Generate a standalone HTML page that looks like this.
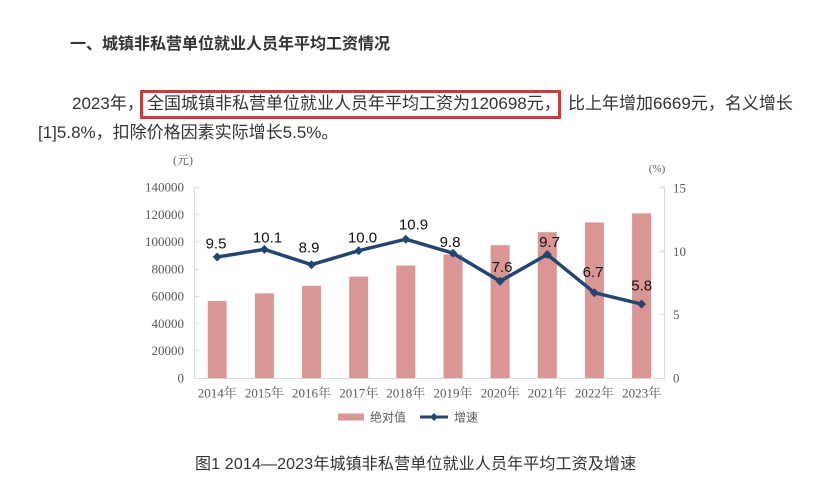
<!DOCTYPE html>
<html>
<head>
<meta charset="utf-8">
<style>
html,body{margin:0;padding:0;background:#fff;}
body{width:838px;height:501px;position:relative;overflow:hidden;font-family:"Liberation Sans","Noto Sans CJK SC",sans-serif;color:#333;}
.t{position:absolute;white-space:nowrap;}
.h{left:70px;top:34px;font-size:16px;line-height:22px;font-weight:bold;color:#333;}
.p{font-size:17px;line-height:20px;color:#333;}
.box{position:absolute;left:140px;top:90px;width:415px;height:23px;border:3px solid #c43d3f;}
.cap{left:195px;top:454px;font-size:16px;line-height:22px;color:#333;letter-spacing:0.15px;}
</style>
</head>
<body>
<div class="t h">一、城镇非私营单位就业人员年平均工资情况</div>

<div class="t p" style="left:72px;top:94px;">2023年，</div>
<div class="box"></div>
<div class="t p" style="left:147px;top:94px;">全国城镇非私营单位就业人员年平均工资为120698元，</div>
<div class="t p" style="left:568px;top:94px;">比上年增加6669元，名义增长</div>
<div class="t p" style="left:38px;top:123px;">[1]5.8%，扣除价格因素实际增长5.5%。</div>

<svg style="position:absolute;left:0;top:0;" width="838" height="501" xmlns="http://www.w3.org/2000/svg">
  <g stroke="#d9d9d9" stroke-width="1" fill="none">
    <line x1="194.5" y1="187" x2="194.5" y2="378"/>
    <line x1="664.5" y1="187" x2="664.5" y2="378"/>
    <line x1="194" y1="378.5" x2="665" y2="378.5"/>
    <line x1="194" y1="187.5" x2="199" y2="187.5"/>
    <line x1="194" y1="214.5" x2="199" y2="214.5"/>
    <line x1="194" y1="241.5" x2="199" y2="241.5"/>
    <line x1="194" y1="269.5" x2="199" y2="269.5"/>
    <line x1="194" y1="296.5" x2="199" y2="296.5"/>
    <line x1="194" y1="323.5" x2="199" y2="323.5"/>
    <line x1="194" y1="350.5" x2="199" y2="350.5"/>
    <line x1="660" y1="187.5" x2="665" y2="187.5"/>
    <line x1="660" y1="251.5" x2="665" y2="251.5"/>
    <line x1="660" y1="314.5" x2="665" y2="314.5"/>
  </g>

  <g fill="#d99694">
    <rect x="207.7" y="301.1" width="19" height="76.9"/>
    <rect x="254.9" y="293.4" width="19" height="84.6"/>
    <rect x="302.0" y="285.8" width="19" height="92.2"/>
    <rect x="349.2" y="276.6" width="19" height="101.4"/>
    <rect x="396.3" y="265.6" width="19" height="112.4"/>
    <rect x="443.5" y="254.5" width="19" height="123.5"/>
    <rect x="490.6" y="245.2" width="19" height="132.8"/>
    <rect x="537.8" y="232.2" width="19" height="145.8"/>
    <rect x="584.9" y="222.4" width="19" height="155.6"/>
    <rect x="632.1" y="213.3" width="19" height="164.7"/>
  </g>

  <polyline fill="none" stroke="#234670" stroke-width="3.5" stroke-linejoin="round"
    points="217.2,257.0 264.4,249.4 311.5,264.7 358.7,250.7 405.8,239.2 453.0,253.2 500.1,281.2 547.3,254.5 594.4,292.7 641.6,304.1"/>
  <g fill="#234670">
    <polygon points="217.2,252.5 221.7,257.0 217.2,261.5 212.7,257.0"/>
    <polygon points="264.4,244.9 268.9,249.4 264.4,253.9 259.9,249.4"/>
    <polygon points="311.5,260.2 316.0,264.7 311.5,269.2 307.0,264.7"/>
    <polygon points="358.7,246.2 363.2,250.7 358.7,255.2 354.2,250.7"/>
    <polygon points="405.8,234.7 410.3,239.2 405.8,243.7 401.3,239.2"/>
    <polygon points="453.0,248.7 457.5,253.2 453.0,257.7 448.5,253.2"/>
    <polygon points="500.1,276.7 504.6,281.2 500.1,285.7 495.6,281.2"/>
    <polygon points="547.3,250.0 551.8,254.5 547.3,259.0 542.8,254.5"/>
    <polygon points="594.4,288.2 598.9,292.7 594.4,297.2 589.9,292.7"/>
    <polygon points="641.6,299.6 646.1,304.1 641.6,308.6 637.1,304.1"/>
  </g>

  <g font-family="'Liberation Sans', sans-serif" font-size="15" fill="#111" text-anchor="middle">
    <text x="216" y="248.5">9.5</text>
    <text x="267.5" y="242.5">10.1</text>
    <text x="309" y="252.4">8.9</text>
    <text x="362.5" y="242.7">10.0</text>
    <text x="413.5" y="229.4">10.9</text>
    <text x="450" y="247">9.8</text>
    <text x="502" y="272">7.6</text>
    <text x="549.5" y="247">9.7</text>
    <text x="593" y="277">6.7</text>
    <text x="641.7" y="290.4">5.8</text>
  </g>

  <g font-family="'Liberation Serif', 'Noto Serif CJK SC', serif" font-size="13" fill="#595959" text-anchor="end">
    <text x="184" y="191.5">140000</text>
    <text x="184" y="218.8">120000</text>
    <text x="184" y="246.1">100000</text>
    <text x="184" y="273.4">80000</text>
    <text x="184" y="300.6">60000</text>
    <text x="184" y="327.9">40000</text>
    <text x="184" y="355.2">20000</text>
    <text x="184" y="382.5">0</text>
  </g>

  <g font-family="'Liberation Serif', serif" font-size="13" fill="#595959" text-anchor="start">
    <text x="673" y="192.5">15</text>
    <text x="673" y="255.8">10</text>
    <text x="673" y="319.2">5</text>
    <text x="673" y="382.5">0</text>
  </g>

  <text x="183" y="164" font-family="'Liberation Serif', 'Noto Serif CJK SC', serif" font-size="12" fill="#595959" text-anchor="middle">(元)</text>
  <text x="657" y="172" font-family="'Liberation Serif', serif" font-size="11" fill="#595959" text-anchor="middle">(%)</text>

  <g font-family="'Liberation Serif', 'Noto Serif CJK SC', serif" font-size="13" fill="#595959" text-anchor="middle">
    <text x="217.2" y="397.5">2014年</text>
    <text x="264.4" y="397.5">2015年</text>
    <text x="311.5" y="397.5">2016年</text>
    <text x="358.7" y="397.5">2017年</text>
    <text x="405.8" y="397.5">2018年</text>
    <text x="453.0" y="397.5">2019年</text>
    <text x="500.1" y="397.5">2020年</text>
    <text x="547.3" y="397.5">2021年</text>
    <text x="594.4" y="397.5">2022年</text>
    <text x="641.6" y="397.5">2023年</text>
  </g>

  <rect x="338" y="413.5" width="26" height="7" fill="#d99694"/>
  <text x="370" y="421.5" font-family="'Liberation Sans', 'Noto Sans CJK SC', sans-serif" font-size="12" fill="#595959">绝对值</text>
  <line x1="420" y1="417" x2="448" y2="417" stroke="#234670" stroke-width="3"/>
  <polygon points="434,413 438,417 434,421 430,417" fill="#234670"/>
  <text x="454" y="421.5" font-family="'Liberation Sans', 'Noto Sans CJK SC', sans-serif" font-size="12" fill="#595959">增速</text>
</svg>

<div class="t cap">图1 2014—2023年城镇非私营单位就业人员年平均工资及增速</div>
</body>
</html>
